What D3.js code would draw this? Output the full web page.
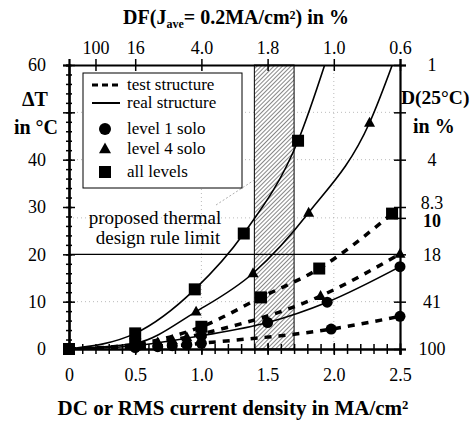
<!DOCTYPE html>
<html>
<head>
<meta charset="utf-8">
<script src="https://cdn.jsdelivr.net/npm/d3@7"></script>
<style>
  body { margin: 0; background: #fff; }
  .axis path, .axis line { stroke: #000; }
</style>
</head>
<body>
<div id="chart"></div>
<script>
// current density (MA/cm2) and temperature rise (deg C) for each curve
var realAllJ = [0, 0.5, 0.95, 1.32, 1.73];
var realAllT = [0, 3.3, 12.6, 24.4, 44.0];
var realAllExt = [2.0, 66];
var realL4J = [0, 0.5, 0.96, 1.39, 1.81, 2.27];
var realL4T = [0, 1.2, 7.9, 16.0, 28.8, 47.8];
var realL4Ext = [2.5, 64.5];
var realL1J = [0, 0.5, 1.0, 1.5, 1.95, 2.5];
var realL1T = [0, 0.7, 2.8, 5.6, 9.9, 17.4];

var testAllJ = [0, 0.5, 1.0, 1.45, 1.89, 2.44];
var testAllT = [0, 1.0, 4.7, 10.9, 17.0, 28.6];
var testL4J = [0, 0.5, 0.67, 0.78, 0.89, 1.0, 1.9, 2.5];
var testL4T = [0, 0.7, 1.4, 1.9, 2.5, 3.2, 11.2, 20.1];
var testL1J = [0, 0.5, 0.67, 0.78, 0.89, 1.0, 1.98, 2.5];
var testL1T = [0, 0.3, 0.5, 0.7, 0.9, 1.2, 4.2, 6.9];

// axes
var xTicks = [0, 0.5, 1.0, 1.5, 2.0, 2.5];
var xTickLabels = ["0", "0.5", "1.0", "1.5", "2.0", "2.5"];
var yTicks = [0, 10, 20, 30, 40, 50, 60];
var yTickLabels = ["0", "10", "20", "30", "40", "", "60"];
var topTicks = [0.2, 0.5, 1.0, 1.5, 2.0, 2.5];
var topTickLabels = ["100", "16", "4.0", "1.8", "1.0", "0.6"];
var rightTicks = [60, 50, 40, 30, 27.7, 20, 10, 0];
var rightTickLabels = ["1", "", "4", "8.3", "10", "18", "41", "100"];
var limitBand = [1.4, 1.7];
var limitLine = 20;
var guideJ = [1.0, 2.0];
var guideT = [50, 40, 27.7, 10];

var legendItems = [
    {name: "test structure", kind: "dash"},
    {name: "real structure", kind: "line"},
    {name: "level 1 solo", kind: "circle"},
    {name: "level 4 solo", kind: "triangle"},
    {name: "all levels", kind: "square"}
];

var FONT = '"Liberation Serif"';
var W = 473, H = 422;
var x = d3.scaleLinear().domain([0, 2.5]).range([69, 400]);
var y = d3.scaleLinear().domain([0, 60]).range([349, 65]);

var svg = d3.select("#chart").append("svg")
    .attr("width", W)
    .attr("height", H)

var defs = svg.append("defs");
defs.append("clipPath").attr("id", "plotClip")
    .append("rect")
    .attr("x", x(0)).attr("y", y(60))
    .attr("width", x(2.5) - x(0)).attr("height", y(0) - y(60))

var hatch = defs.append("pattern")
    .attr("id", "hatch")
    .attr("patternUnits", "userSpaceOnUse")
    .attr("width", 3).attr("height", 3)
    .attr("patternTransform", "rotate(45)")
hatch.append("rect").attr("width", 3).attr("height", 3).attr("fill", "#fff")
hatch.append("line")
    .attr("x1", 0).attr("y1", 0).attr("x2", 0).attr("y2", 3)
    .attr("stroke", "#222").attr("stroke-width", 1.1)

// Faint guide lines
guideJ.forEach(function(j) {
    svg.append("line")
        .attr("x1", x(j)).attr("x2", x(j))
        .attr("y1", y(60)).attr("y2", y(0))
        .attr("stroke", "#aaa").attr("stroke-width", 0.8)
        .attr("stroke-dasharray", "1,3")
});
guideT.forEach(function(t) {
    svg.append("line")
        .attr("x1", x(0)).attr("x2", x(2.5))
        .attr("y1", y(t)).attr("y2", y(t))
        .attr("stroke", "#aaa").attr("stroke-width", 0.8)
        .attr("stroke-dasharray", "1,3")
});

// Hatched design rule band
svg.append("rect")
    .attr("x", x(limitBand[0])).attr("y", y(60))
    .attr("width", x(limitBand[1]) - x(limitBand[0]))
    .attr("height", y(0) - y(60))
    .attr("fill", "url(#hatch)")
    .attr("stroke", "#000").attr("stroke-width", 1)

// 20 degree limit line
svg.append("line")
    .attr("x1", x(0)).attr("x2", x(2.5))
    .attr("y1", y(limitLine)).attr("y2", y(limitLine))
    .attr("stroke", "#000").attr("stroke-width", 1.2)

// pointer from the label to the band
svg.append("line")
    .attr("x1", 216).attr("y1", 205).attr("x2", x(limitBand[0])).attr("y2", 180)
    .attr("stroke", "#999").attr("stroke-width", 0.8)
    .attr("stroke-dasharray", "2,2")

var lineGen = d3.line()
    .x(function(d) { return x(d[0]); })
    .y(function(d) { return y(d[1]); })
    .curve(d3.curveMonotoneX)

function zip(js, ts) {
    return js.map(function(j, i) { return [j, ts[i]]; });
}

var series = [
    {pts: zip(realAllJ, realAllT), ext: realAllExt, dash: false, marker: "square"},
    {pts: zip(realL4J, realL4T), ext: realL4Ext, dash: false, marker: "triangle"},
    {pts: zip(realL1J, realL1T), ext: null, dash: false, marker: "circle"},
    {pts: zip(testAllJ, testAllT), ext: null, dash: true, marker: "square"},
    {pts: zip(testL4J, testL4T), ext: null, dash: true, marker: "triangle"},
    {pts: zip(testL1J, testL1T), ext: null, dash: true, marker: "circle"}
];

var plot = svg.append("g").attr("clip-path", "url(#plotClip)");

series.forEach(function(s) {
    var pts = s.ext ? s.pts.concat([s.ext]) : s.pts;
    plot.append("path")
        .attr("d", lineGen(pts))
        .attr("fill", "none")
        .attr("stroke", "#000")
        .attr("stroke-width", s.dash ? 3.5 : 1.6)
        .attr("stroke-dasharray", s.dash ? "7,7" : null)
});

function drawMarker(g, kind, cx, cy, size) {
    if (kind == "square") {
        g.append("rect")
            .attr("x", cx - size/2).attr("y", cy - size/2)
            .attr("width", size).attr("height", size)
            .attr("fill", "#000")
    } else if (kind == "circle") {
        g.append("circle")
            .attr("cx", cx).attr("cy", cy).attr("r", size/2)
            .attr("fill", "#000")
    } else if (kind == "triangle") {
        var h = size*0.9;
        g.append("path")
            .attr("d", "M " + cx + " " + (cy - h*0.6) +
                       " L " + (cx + size/2) + " " + (cy + h*0.4) +
                       " L " + (cx - size/2) + " " + (cy + h*0.4) + " Z")
            .attr("fill", "#000")
    }
}

var marks = svg.append("g");
series.forEach(function(s) {
    s.pts.forEach(function(p) {
        drawMarker(marks, s.marker, x(p[0]), y(p[1]), s.marker == "square" ? 12 : 11);
    });
});

// Axes: ticks cross the axis line
function crossTicks(g) {
    g.selectAll(".tick line").each(function() {
        var l = d3.select(this);
        if (l.attr("x2") && +l.attr("x2") != 0) l.attr("x1", -l.attr("x2"));
        if (l.attr("y2") && +l.attr("y2") != 0) l.attr("y1", -l.attr("y2"));
    });
}

var xMinor = d3.range(0, 26).map(function(i) { return i/10; });
svg.append("g").attr("class", "axis")
    .attr("transform", "translate(0," + y(0) + ")")
    .call(d3.axisBottom(x).tickValues(xMinor).tickSize(5).tickFormat(""))
    .call(crossTicks);

svg.append("g").attr("class", "axis")
    .attr("transform", "translate(0," + y(0) + ")")
    .call(d3.axisBottom(x).tickValues(xTicks).tickSize(6).tickPadding(13)
        .tickFormat(function(d, i) { return xTickLabels[i]; }))
    .call(crossTicks);

var yMinor = d3.range(0, 61, 2);
svg.append("g").attr("class", "axis")
    .attr("transform", "translate(" + x(0) + ",0)")
    .call(d3.axisLeft(y).tickValues(yMinor).tickSize(3).tickFormat(""))
    .call(crossTicks);

svg.append("g").attr("class", "axis")
    .attr("transform", "translate(" + x(0) + ",0)")
    .call(d3.axisLeft(y).tickValues(yTicks).tickSize(6).tickPadding(17)
        .tickFormat(function(d, i) { return yTickLabels[i]; }))
    .call(crossTicks);

svg.append("g").attr("class", "axis")
    .attr("transform", "translate(0," + y(60) + ")")
    .call(d3.axisTop(x).tickValues(topTicks).tickSize(6).tickPadding(5)
        .tickFormat(function(d, i) { return topTickLabels[i]; }))
    .call(crossTicks);

var gRight = svg.append("g").attr("class", "axis")
    .attr("transform", "translate(" + x(2.5) + ",0)")
    .call(d3.axisRight(y).tickValues(rightTicks).tickSize(6).tickPadding(26)
        .tickFormat(function(d, i) { return rightTickLabels[i]; }))
    .call(crossTicks);
gRight.selectAll("text")
    .attr("text-anchor", "middle")
    .attr("dy", function(d, i) {
        if (rightTickLabels[i] == "8.3") return "0.1em";
        if (rightTickLabels[i] == "10") return "0.5em";
        return "0.32em";
    })
    .style("font-weight", function(d, i) { return rightTickLabels[i] == "10" ? "bold" : null; })

svg.selectAll(".axis path").attr("stroke-width", 2.2)
svg.selectAll(".axis line").attr("stroke-width", 1.5)
svg.selectAll(".axis text").attr("font-size", 18)

// Axis titles
svg.append("text")
    .style("font-weight", "bold")
    .attr("x", 236).attr("y", 24)
    .attr("text-anchor", "middle")
    .attr("font-size", 20)
    .html('DF(J<tspan font-size="12" dy="4">ave</tspan><tspan dy="-4">= 0.2MA/cm²) in %</tspan>')

svg.append("text")
    .style("font-weight", "bold")
    .attr("x", 233).attr("y", 415)
    .attr("text-anchor", "middle")
    .attr("font-size", 21)
    .text("DC or RMS current density in MA/cm²")

svg.append("text").style("font-weight", "bold")
    .attr("x", 35).attr("y", 106).attr("text-anchor", "middle")
    .attr("font-size", 20).text("ΔT")
svg.append("text").style("font-weight", "bold")
    .attr("x", 36).attr("y", 134).attr("text-anchor", "middle")
    .attr("font-size", 20).text("in °C")

svg.append("text").style("font-weight", "bold")
    .attr("x", 401).attr("y", 104)
    .attr("font-size", 19.5).text("D(25°C)")
svg.append("text").style("font-weight", "bold")
    .attr("x", 413).attr("y", 133)
    .attr("font-size", 20).text("in %")

// Limit label
svg.append("text")
    .attr("x", 155).attr("y", 224).attr("text-anchor", "middle")
    .attr("font-size", 19).text("proposed thermal")
svg.append("text")
    .attr("x", 158).attr("y", 244).attr("text-anchor", "middle")
    .attr("font-size", 19).text("design rule limit")

// Legend
var legend = svg.append("g").attr("transform", "translate(83,73)");
legend.append("rect")
    .attr("width", 159).attr("height", 115)
    .attr("fill", "#fff").attr("stroke", "#000").attr("stroke-width", 1)
var rowY = [12, 30, 56, 76, 99];
legendItems.forEach(function(item, i) {
    var cy = rowY[i];
    if (item.kind == "dash" || item.kind == "line") {
        legend.append("line")
            .attr("x1", 9).attr("x2", 37).attr("y1", cy).attr("y2", cy)
            .attr("stroke", "#000")
            .attr("stroke-width", item.kind == "dash" ? 3 : 2)
            .attr("stroke-dasharray", item.kind == "dash" ? "6,4" : null)
    } else {
        drawMarker(legend, item.kind, 22, cy, 12);
    }
    legend.append("text")
        .attr("x", 44).attr("y", cy + 5)
        .attr("font-size", 17)
        .text(item.name)
});

// one serif family on every text, set last so the axis defaults do not win
svg.selectAll("g.axis").attr("font-family", null)
svg.selectAll("text").style("font-family", FONT).attr("fill", "#000")
</script>
</body>
</html>
